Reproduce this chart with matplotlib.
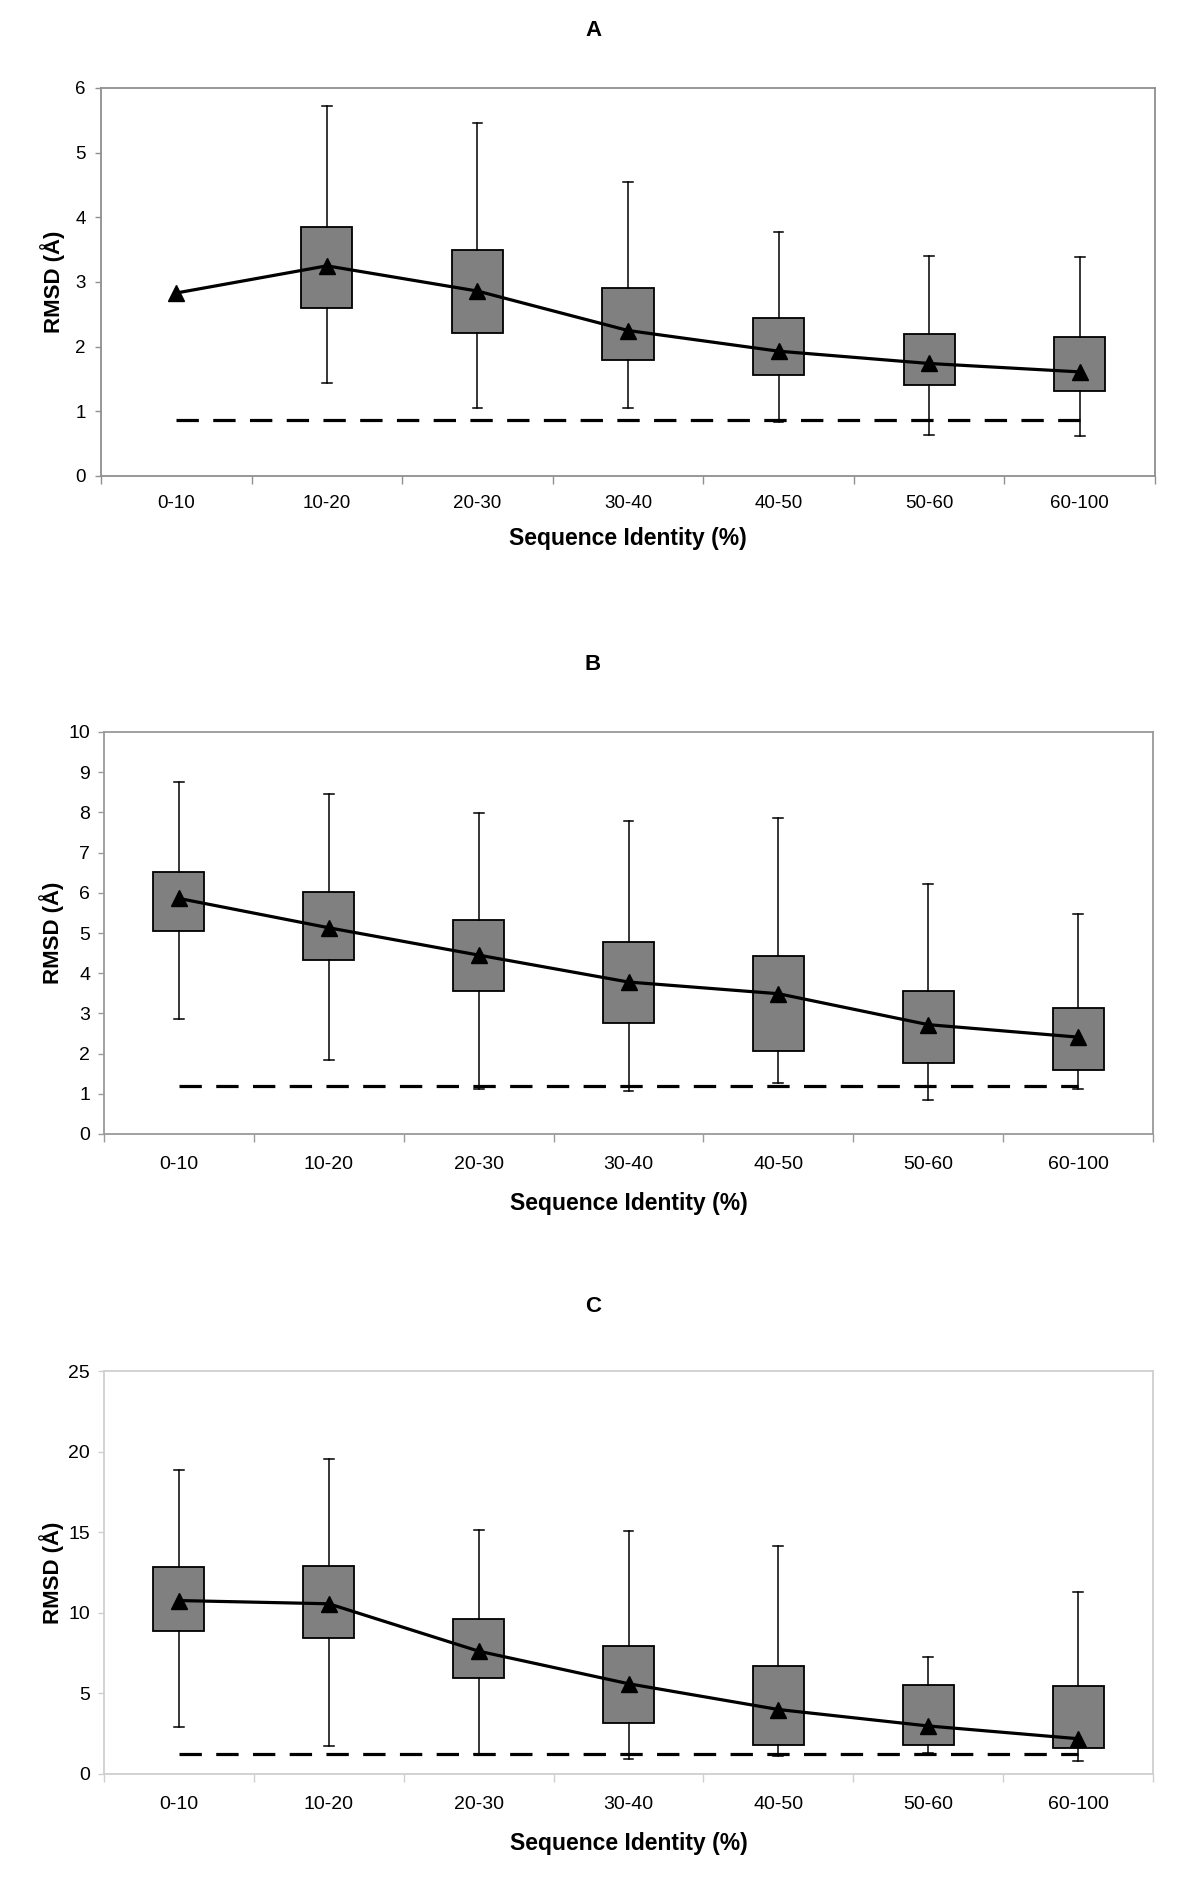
import numpy as np
import matplotlib
matplotlib.use("Agg")
import matplotlib.pyplot as plt
from matplotlib.ticker import FixedLocator, NullFormatter

nan = np.nan
categories = ["0-10", "10-20", "20-30", "30-40", "40-50", "50-60", "60-100"]

# panel A
a_mean = [2.83, 3.25, 2.86, 2.25, 1.93, 1.74, 1.61]
a_q1 = [nan, 2.60, 2.21, 1.80, 1.56, 1.40, 1.32]
a_q3 = [nan, 3.85, 3.50, 2.91, 2.45, 2.19, 2.15]
a_lo = [nan, 1.44, 1.05, 1.05, 0.84, 0.64, 0.62]
a_hi = [nan, 5.72, 5.46, 4.54, 3.77, 3.40, 3.39]
a_ref = 0.87

# panel B
b_mean = [5.86, 5.13, 4.45, 3.78, 3.49, 2.72, 2.41]
b_q1 = [5.06, 4.34, 3.55, 2.76, 2.07, 1.77, 1.60]
b_q3 = [6.52, 6.01, 5.33, 4.77, 4.44, 3.55, 3.14]
b_lo = [2.87, 1.83, 1.13, 1.06, 1.27, 0.85, 1.12]
b_hi = [8.75, 8.47, 7.99, 7.79, 7.85, 6.21, 5.47]
b_ref = 1.19

# panel C
c_mean = [10.76, 10.56, 7.62, 5.60, 4.00, 2.98, 2.19]
c_q1 = [8.86, 8.43, 5.97, 3.15, 1.78, 1.78, 1.63]
c_q3 = [12.87, 12.88, 9.64, 7.93, 6.73, 5.54, 5.45]
c_lo = [2.90, 1.72, 1.22, 0.96, 1.13, 1.32, 0.78]
c_hi = [18.86, 19.55, 15.16, 15.07, 14.14, 7.25, 11.27]
c_ref = 1.27

ARIAL = ["Liberation Sans", "DejaVu Sans"]
NARROW = ["Liberation Sans Narrow", "Liberation Sans", "DejaVu Sans"]

fig = plt.figure(figsize=(12, 18.88), dpi=100)
W, H = 1200.0, 1888.0


def make_axes(left, right, top, bottom):
    return fig.add_axes([left / W, 1 - bottom / H, (right - left) / W, (bottom - top) / H])


def draw_panel(ax, mean, q1, q3, lo, hi, ref, ymax, ystep, spine_col,
               tick_font, tick_size, xlab_font, xlab_y, ylab_x, xpad, ypad):
    x = np.arange(len(categories))
    stats = []
    pos = []
    for i in range(len(categories)):
        if np.isnan(q1[i]):
            continue
        stats.append(dict(med=mean[i], q1=q1[i], q3=q3[i],
                          whislo=lo[i], whishi=hi[i], fliers=[]))
        pos.append(x[i])
    ax.bxp(stats, positions=pos, widths=0.34, patch_artist=True,
           showfliers=False, capwidths=0.065,
           boxprops=dict(facecolor="#808080", edgecolor="black", linewidth=1.3),
           whiskerprops=dict(color="black", linewidth=1.1),
           capprops=dict(color="black", linewidth=1.1),
           medianprops=dict(visible=False), manage_ticks=False, zorder=2)

    # reference (dashed) line across the categories
    ax.plot([x[0], x[-1]], [ref, ref], color="black", lw=2.3,
            dashes=(7, 4.5), zorder=3)
    # mean line with triangles
    ax.plot(x, mean, color="black", lw=2.3, marker="^", markersize=11, zorder=4)

    ax.set_xlim(-0.5, len(categories) - 0.5)
    ax.set_ylim(0, ymax)
    ax.set_yticks(np.arange(0, ymax + 0.01, ystep))
    ax.set_xticks(x)
    ax.set_xticklabels(categories)
    ax.xaxis.set_minor_locator(FixedLocator(np.arange(-0.5, len(categories), 1.0)))
    ax.xaxis.set_minor_formatter(NullFormatter())
    ax.tick_params(axis="x", which="major", length=0, pad=xpad)
    ax.tick_params(axis="x", which="minor", length=6, width=1, color=spine_col)
    ax.tick_params(axis="y", length=4, width=1, color=spine_col, pad=ypad)
    for lab in ax.get_xticklabels() + ax.get_yticklabels():
        lab.set_family(tick_font)
        lab.set_fontsize(tick_size)
        lab.set_color("black")
    for sp in ax.spines.values():
        sp.set_color(spine_col)
        sp.set_linewidth(1.3)

    ax.set_xlabel("Sequence Identity (%)", family=xlab_font, fontsize=16.5,
                  fontweight="bold", va="center")
    ax.xaxis.set_label_coords(0.5, xlab_y)
    ax.set_ylabel("RMSD (Å)", family=ARIAL, fontsize=16, fontweight="bold",
                  va="center")
    ax.yaxis.set_label_coords(ylab_x, 0.5)


axA = make_axes(101, 1155, 88, 476)
draw_panel(axA, a_mean, a_q1, a_q3, a_lo, a_hi, a_ref, 6, 1, "#8f8f8f",
           ARIAL, 13.5, ARIAL, -0.160, -0.046, 14, 7)

axB = make_axes(104, 1153, 732, 1134)
draw_panel(axB, b_mean, b_q1, b_q3, b_lo, b_hi, b_ref, 10, 1, "#9a9a9a",
           NARROW, 14, NARROW, -0.174, -0.050, 16, 6)

axC = make_axes(104, 1153, 1371, 1774)
draw_panel(axC, c_mean, c_q1, c_q3, c_lo, c_hi, c_ref, 25, 5, "#cfcfcf",
           NARROW, 14, NARROW, -0.172, -0.050, 16, 6)

fig.text(593 / W, 1 - 31 / H, "A", family=ARIAL, fontsize=16, fontweight="bold",
         ha="center", va="center")
fig.text(593 / W, 1 - 664 / H, "B", family=ARIAL, fontsize=16, fontweight="bold",
         ha="center", va="center")
fig.text(593 / W, 1 - 1307 / H, "C", family=ARIAL, fontsize=16, fontweight="bold",
         ha="center", va="center")

fig.savefig("out.png", dpi=100, facecolor="white")
